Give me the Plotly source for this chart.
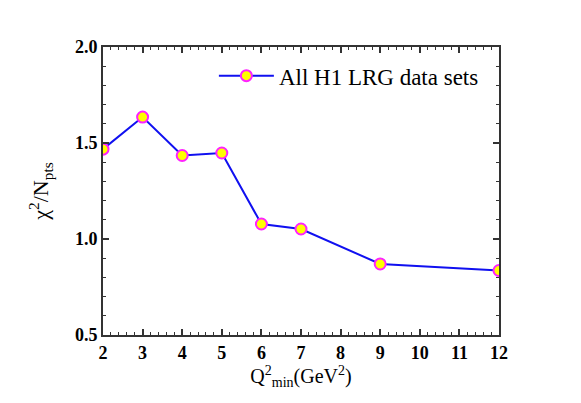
import plotly.graph_objects as go

# Data #
q2_min = [2, 3, 4, 5, 6, 7, 9, 12]
chi2_per_pt = [1.468, 1.635, 1.435, 1.448, 1.078, 1.052, 0.870, 0.836]
series_name = "All H1 LRG data sets"

serif = "Liberation Serif, Times New Roman, serif"

# Figure Initiation #
fig = go.Figure()

fig.add_trace(go.Scatter(x=q2_min,
                         y=chi2_per_pt,
                         mode="lines+markers",
                         name=series_name,
                         line=dict(color="#1010f0", width=2),
                         marker=dict(size=11, color="#ffff00",
                                     line=dict(color="#ff22ff", width=2)),
                         )
)

# Figure Layout #
# (page body adds ~8px offset, margins compensate for it)
fig.update_layout(width=581, height=403,
                  margin=dict(l=95, r=90, t=39, b=76),
                  plot_bgcolor="white",
                  paper_bgcolor="white",
                  showlegend=True,
                  legend=dict(x=0.28, y=0.975, xanchor="left", yanchor="top",
                              itemwidth=55,
                              bgcolor="rgba(0,0,0,0)",
                              font=dict(family=serif, size=23, color="black")),
                  font=dict(family=serif, color="black")
)

axis_common = dict(showline=True, linecolor="#333333", linewidth=2,
                   mirror="ticks", ticks="inside", ticklen=6, tickwidth=1.5,
                   tickcolor="#333333", showgrid=False, zeroline=False,
                   automargin=False,
                   tickfont=dict(family=serif, size=18, color="black",
                                 weight="bold"))

# X-Axis Styles #
fig.update_xaxes(range=[2, 12], dtick=1, tick0=2,
                 minor=dict(dtick=0.2, ticks="inside", ticklen=3,
                            tickcolor="#333333", tickwidth=1),
                 title=dict(text="Q<sup>2</sup><sub>min</sub>(GeV<sup>2</sup>)",
                            font=dict(family=serif, size=20), standoff=4),
                 **axis_common)

# Y-Axis Styles #
fig.update_yaxes(range=[0.5, 2.0], dtick=0.5, tick0=0.5, tickformat=".1f",
                 minor=dict(dtick=0.1, ticks="inside", ticklen=3,
                            tickcolor="#333333", tickwidth=1),
                 title=dict(text="χ<sup>2</sup>/N<sub>pts</sub>",
                            font=dict(family=serif, size=22), standoff=20),
                 **axis_common)

fig.write_html("out.html")
